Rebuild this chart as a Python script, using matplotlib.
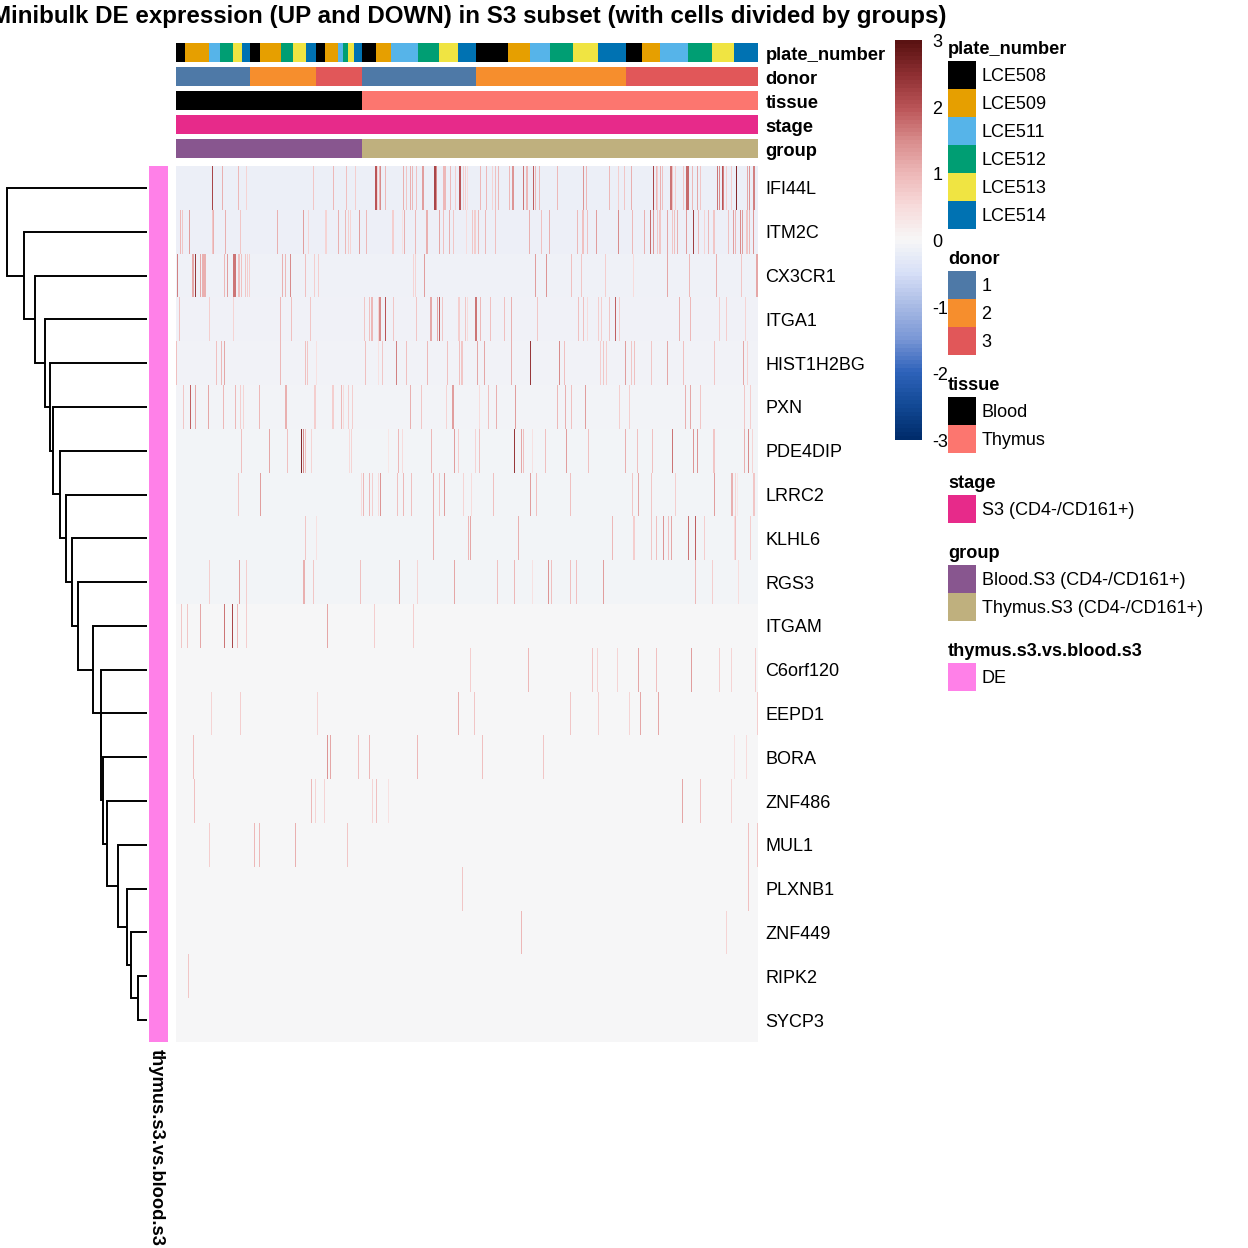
import numpy as np
import matplotlib
matplotlib.use('Agg')
import matplotlib.pyplot as plt
from matplotlib.colors import LinearSegmentedColormap, ListedColormap
from matplotlib.patches import Rectangle

plt.rcParams['font.family'] = ['Liberation Sans', 'DejaVu Sans']

title = "Minibulk DE expression (UP and DOWN) in S3 subset (with cells divided by groups)"
genes = ["IFI44L", "ITM2C", "CX3CR1", "ITGA1", "HIST1H2BG", "PXN", "PDE4DIP", "LRRC2", "KLHL6", "RGS3",
         "ITGAM", "C6orf120", "EEPD1", "BORA", "ZNF486", "MUL1", "PLXNB1", "ZNF449", "RIPK2", "SYCP3"]
n_cells = 582

# background z-score of each gene (cells without expression)
base_values = [-0.17, -0.16, -0.12, -0.11, -0.09, -0.08, -0.07, -0.07, -0.07, -0.07,
               -0.01, -0.01, -0.01, -0.01, -0.01, -0.01, -0.01, -0.01, -0.01, -0.01]

# (cell, z-score) for the expressing cells of each gene
ifi44l = [(36, 2.2), (46, 1.1), (62, 1.0), (70, 0.6), (137, 0.8), (157, 1.0), (170, 0.9), (179, 0.7),
          (199, 2.0), (200, 2.0), (201, 0.6), (203, 1.0), (204, 1.5), (209, 1.0), (227, 1.1), (230, 0.8),
          (234, 1.1), (236, 1.0), (240, 0.9), (246, 1.3), (247, 1.3), (258, 2.2), (259, 2.2), (260, 1.5),
          (267, 1.0), (268, 1.0), (269, 1.0), (274, 1.0), (279, 0.7), (283, 2.0), (284, 2.0), (287, 0.7),
          (289, 0.7), (291, 0.5), (304, 1.0), (310, 1.0), (316, 0.6), (319, 0.9), (322, 1.0), (333, 1.0),
          (336, 1.4), (337, 1.4), (347, 1.7), (350, 1.0), (351, 1.0), (357, 1.9), (359, 1.0), (363, 1.0),
          (381, 1.0), (407, 1.4), (410, 1.0), (433, 1.0), (442, 0.7), (448, 0.8), (455, 1.1), (477, 2.2),
          (480, 1.0), (481, 0.7), (484, 1.1), (486, 0.9), (494, 1.7), (495, 1.7), (496, 0.8), (499, 0.7),
          (507, 0.8), (510, 1.8), (511, 1.8), (512, 1.8), (516, 1.0), (521, 1.2), (524, 0.8), (541, 1.7),
          (543, 1.5), (546, 2.0), (547, 1.6), (550, 0.7), (555, 0.7), (560, 2.6), (571, 1.2), (573, 1.4),
          (577, 1.6), (578, 1.6)]
itm2c = [(4, 1.0), (6, 0.8), (13, 1.3), (36, 0.8), (37, 1.1), (49, 1.1), (64, 0.8), (101, 1.1), (127, 1.3),
         (132, 0.6), (149, 0.6), (150, 0.6), (162, 1.1), (169, 1.0), (172, 0.7), (174, 0.6), (183, 1.3),
         (190, 1.0), (216, 0.7), (217, 0.7), (226, 0.4), (228, 1.1), (239, 1.0), (250, 1.1), (251, 1.1),
         (263, 1.2), (267, 0.9), (273, 1.1), (277, 0.8), (290, 0.5), (296, 0.8), (298, 0.7), (299, 0.7),
         (302, 1.0), (309, 1.0), (319, 0.9), (353, 1.1), (365, 0.9), (373, 1.1), (401, 1.0), (406, 0.9),
         (407, 0.9), (411, 0.9), (420, 1.3), (442, 1.5), (456, 1.0), (468, 1.1), (474, 1.8), (477, 1.4),
         (481, 0.8), (483, 0.8), (484, 0.8), (491, 1.2), (496, 0.8), (498, 0.9), (501, 1.1), (510, 1.3),
         (517, 2.3), (522, 1.0), (528, 0.6), (532, 1.0), (537, 0.8), (538, 0.8), (552, 0.9), (557, 1.3),
         (559, 1.0), (564, 1.5), (566, 1.3), (570, 0.8), (571, 0.8), (573, 1.0), (577, 1.4)]
cx3cr1 = [(1, 1.6), (16, 1.2), (17, 1.2), (19, 2.4), (24, 1.2), (26, 1.1), (27, 1.1), (28, 1.1), (29, 1.1),
          (48, 1.0), (51, 1.3), (57, 1.7), (58, 1.7), (59, 1.7), (62, 0.9), (63, 0.9), (65, 0.9), (69, 0.8),
          (71, 0.7), (73, 0.7), (106, 1.1), (109, 1.0), (114, 1.5), (129, 0.9), (138, 0.7), (142, 0.7),
          (237, 0.6), (239, 0.6), (248, 1.3), (359, 1.3), (370, 1.4), (395, 0.9), (405, 0.8), (429, 0.7),
          (457, 0.5), (491, 1.2), (513, 1.0), (540, 1.1), (565, 0.8), (580, 1.2), (581, 1.2)]
itga1 = [(3, 0.9), (33, 0.7), (57, 0.6), (104, 1.0), (115, 0.9), (134, 0.8), (188, 0.8), (193, 0.9), (195, 1.0),
         (196, 1.0), (202, 0.6), (203, 1.5), (204, 1.5), (209, 2.0), (217, 0.8), (240, 0.8), (254, 1.2),
         (255, 1.2), (261, 1.2), (263, 1.9), (266, 0.8), (282, 0.7), (283, 0.7), (289, 0.8), (291, 0.5),
         (299, 1.7), (300, 1.7), (304, 1.0), (314, 0.9), (328, 0.9), (335, 1.1), (361, 0.8), (402, 0.9),
         (407, 0.9), (411, 0.5), (422, 0.7), (425, 0.7), (433, 0.8), (439, 1.9), (443, 0.7), (503, 1.1),
         (514, 1.0), (543, 0.7), (550, 0.7), (569, 0.6)]
hist1h2bg = [(0, 0.9), (40, 0.9), (45, 1.0), (48, 1.2), (104, 1.0), (129, 0.9), (131, 0.8), (140, 0.4), (189, 0.9),
             (202, 0.4), (206, 0.8), (220, 1.6), (230, 0.9), (251, 1.0), (271, 0.9), (283, 0.9), (285, 0.8),
             (286, 0.8), (301, 1.2), (308, 1.2), (335, 1.1), (354, 2.4), (383, 1.5), (388, 0.9), (424, 0.7),
             (427, 0.8), (430, 0.7), (449, 1.3), (455, 0.8), (458, 0.9), (475, 0.8), (491, 1.2), (507, 0.9),
             (538, 0.8), (567, 1.2), (571, 0.6)]
pxn = [(7, 0.8), (14, 1.9), (19, 1.2), (32, 1.2), (47, 1.0), (59, 1.0), (64, 0.7), (67, 0.6), (83, 1.0), (109, 1.1),
       (110, 1.1), (138, 0.7), (139, 0.7), (156, 0.7), (157, 0.7), (165, 1.0), (167, 0.5), (172, 0.7), (176, 0.7),
       (234, 1.1), (245, 0.8), (270, 0.6), (276, 1.3), (277, 1.3), (303, 0.5), (312, 0.9), (320, 1.1), (339, 1.3),
       (381, 1.0), (389, 1.1), (395, 0.9), (409, 1.3), (443, 0.7), (453, 0.7), (509, 1.1), (514, 1.2), (524, 0.8),
       (568, 0.8), (574, 0.7)]
pde4dip = [(65, 0.9), (93, 1.2), (111, 0.9), (125, 2.6), (127, 1.5), (129, 0.9), (135, 0.6), (173, 0.5), (175, 0.6),
           (212, 0.3), (222, 1.0), (226, 0.5), (255, 1.0), (278, 1.3), (282, 0.7), (299, 0.6), (303, 0.9), (338, 2.4),
           (345, 1.2), (347, 0.9), (356, 0.4), (369, 0.9), (390, 1.3), (412, 0.9), (449, 1.1), (461, 0.9), (476, 0.9),
           (496, 1.7), (517, 1.4), (521, 1.4), (537, 0.8), (538, 0.8), (568, 1.1), (572, 1.5), (576, 0.6)]
lrrc2 = [(62, 0.8), (84, 1.3), (185, 0.5), (187, 1.0), (193, 1.0), (196, 0.7), (202, 0.5), (204, 1.4), (221, 0.9),
         (227, 1.0), (235, 0.9), (257, 1.1), (263, 0.8), (268, 1.3), (287, 0.6), (295, 0.5), (317, 0.9), (354, 1.3),
         (360, 0.9), (394, 0.9), (456, 0.8), (462, 1.2), (475, 0.8), (499, 0.7), (538, 1.3), (555, 1.1), (556, 1.1),
         (559, 0.6), (561, 0.3), (577, 0.8), (578, 0.8)]
klhl6 = [(129, 0.8), (140, 0.4), (257, 1.1), (292, 1.0), (294, 1.2), (342, 1.1), (436, 1.0), (457, 0.7), (458, 0.7),
         (475, 0.8), (480, 0.9), (487, 1.4), (492, 0.9), (495, 1.2), (512, 1.7), (519, 1.9), (528, 0.7), (558, 0.5),
         (559, 0.9), (574, 0.7)]
rgs3 = [(33, 0.7), (63, 1.3), (70, 0.7), (127, 1.1), (128, 1.1), (137, 0.8), (184, 0.9), (223, 1.2), (241, 0.6),
        (278, 1.2), (321, 0.9), (338, 1.0), (356, 0.4), (372, 1.4), (375, 0.9), (394, 0.9), (400, 0.9), (427, 1.3),
        (519, 1.0), (536, 0.7), (562, 0.5)]
itgam = [(5, 0.8), (11, 0.8), (24, 1.2), (48, 1.7), (56, 2.2), (61, 1.0), (70, 0.7), (151, 1.2), (198, 0.7), (237, 0.7)]
c6orf120 = [(294, 0.7), (352, 1.0), (416, 0.8), (421, 0.6), (441, 0.6), (462, 1.2), (480, 0.9), (515, 1.3), (543, 0.7),
            (555, 0.6), (579, 0.7)]
eepd1 = [(35, 0.6), (64, 0.7), (141, 0.6), (282, 1.1), (298, 0.8), (394, 0.8), (422, 0.7), (453, 0.6), (464, 1.2),
         (482, 1.2), (581, 0.7)]
bora = [(17, 0.9), (151, 1.4), (154, 1.2), (182, 0.9), (193, 1.0), (241, 1.0), (306, 0.9), (367, 0.8), (558, 0.4),
        (570, 0.5)]
znf486 = [(18, 0.9), (135, 1.0), (139, 0.6), (148, 0.6), (196, 0.6), (200, 0.9), (212, 0.4), (506, 1.2), (524, 0.9),
          (555, 0.6)]
mul1 = [(33, 0.7), (78, 1.0), (83, 1.0), (119, 1.1), (171, 0.8), (572, 0.9), (581, 0.8)]
plxnb1 = [(286, 0.8), (572, 0.9)]
znf449 = [(345, 1.0), (550, 0.6)]
ripk2 = [(12, 0.8)]
sycp3 = []
gene_spikes = [ifi44l, itm2c, cx3cr1, itga1, hist1h2bg, pxn, pde4dip, lrrc2, klhl6, rgs3,
               itgam, c6orf120, eepd1, bora, znf486, mul1, plxnb1, znf449, ripk2, sycp3]

# top annotations, as runs along the cells
plate_names = ["LCE508", "LCE509", "LCE511", "LCE512", "LCE513", "LCE514"]
plate_colors = ["#000000", "#E69F00", "#56B4E9", "#009E73", "#F0E442", "#0072B2"]
plate_runs = [0, 1, 2, 3, 4, 5, 0, 1, 3, 4, 5, 0, 1, 2, 3, 4, 5, 0, 1, 2, 3, 4, 5, 0, 1, 2, 3, 4, 5, 0, 1, 2, 3, 4, 5]
plate_lengths = [9, 24, 11, 13, 9, 8, 10, 21, 12, 13, 10, 9, 13, 5, 5, 6, 8, 14, 15, 27, 21, 19, 18,
                 32, 22, 20, 23, 25, 28, 16, 18, 28, 24, 22, 24]
donor_names = ["1", "2", "3"]
donor_colors = ["#4E79A7", "#F68E2D", "#E15759"]
donor_runs = [0, 1, 2, 0, 1, 2]
donor_lengths = [74, 66, 46, 114, 150, 132]
tissue_names = ["Blood", "Thymus"]
tissue_colors = ["#000000", "#FC766F"]
tissue_runs = [0, 1]
tissue_lengths = [186, 396]
stage_names = ["S3 (CD4-/CD161+)"]
stage_colors = ["#E72A8A"]
stage_runs = [0]
stage_lengths = [582]
group_names = ["Blood.S3 (CD4-/CD161+)", "Thymus.S3 (CD4-/CD161+)"]
group_colors = ["#88568F", "#BFB07E"]
group_runs = [0, 1]
group_lengths = [186, 396]
de_names = ["DE"]
de_colors = ["#FF80E8"]

# merge heights of the row dendrogram, root first (one ladder, last merge joins the last two rows)
merge_heights = [140.0, 123.0, 111.7, 102.3, 97.3, 94.0, 87.0, 80.7, 75.3, 68.7,
                 53.7, 46.0, 45.3, 44.0, 39.7, 29.0, 19.7, 15.3, 8.3]

cbar_stops = [-3, -2.5, -2, -1.5, -1, -0.5, 0, 0.5, 1, 1.5, 2, 2.5, 3]
cbar_colors = ["#002C6B", "#134A96", "#2F63BB", "#7A97D6", "#A9BBE5", "#D8E0F8", "#F7F7F7",
               "#F8DCDC", "#EEB9B9", "#D98D8D", "#BB5558", "#8F3033", "#5A1212"]
cbar_ticks = [3, 2, 1, 0, -1, -2, -3]

W = 1248


def px_axes(fig, left, top, right, bottom):
    # small inset so the image does not round out to one pixel more
    ax = fig.add_axes([(left + 0.02) / W, 1 - (bottom - 0.02) / W, (right - left - 0.4) / W, (bottom - top - 0.04) / W])
    ax.axis('off')
    return ax


cmap = LinearSegmentedColormap.from_list(
    'zscore', [((s + 3) / 6, c) for s, c in zip(cbar_stops, cbar_colors)], N=512)

fig = plt.figure(figsize=(12.48, 12.48), dpi=100)

# page layer for text and legends, in pixels
page = fig.add_axes([0, 0, 1, 1], zorder=5)
page.set_xlim(0, W)
page.set_ylim(W, 0)
page.axis('off')

# heatmap body
matrix = np.zeros((len(genes), n_cells))
for i, spikes in enumerate(gene_spikes):
    matrix[i, :] = base_values[i]
    for cell, value in spikes:
        matrix[i, cell] = value
ax = px_axes(fig, 176, 166, 758, 1042)
ax.imshow(matrix, aspect='auto', cmap=cmap, vmin=-3, vmax=3, interpolation='nearest')

row_h = (1042 - 166) / len(genes)
for i, gene in enumerate(genes):
    page.text(765.5, 168 + row_h * (i + 0.5), gene, fontsize=13, ha='left', va='center')

# top annotation bars
bars = [("plate_number", plate_runs, plate_lengths, plate_colors, 43),
        ("donor", donor_runs, donor_lengths, donor_colors, 67),
        ("tissue", tissue_runs, tissue_lengths, tissue_colors, 91),
        ("stage", stage_runs, stage_lengths, stage_colors, 115),
        ("group", group_runs, group_lengths, group_colors, 139)]
for name, runs, lengths, colors, top in bars:
    bar_ax = px_axes(fig, 176, top, 758, top + 19)
    row = np.repeat(runs, lengths)[:n_cells].reshape(1, -1)
    bar_ax.imshow(row, aspect='auto', cmap=ListedColormap(colors), vmin=-0.5, vmax=len(colors) - 0.5,
                  interpolation='nearest')
    page.text(765.5, top + 12, name, fontsize=13.2, fontweight='bold', ha='left', va='center')

# left annotation
de_ax = px_axes(fig, 149, 166, 168, 1042)
de_ax.imshow(np.zeros((len(genes), 1)), aspect='auto', cmap=ListedColormap(de_colors), interpolation='nearest')
page.text(156, 1049, "thymus.s3.vs.blood.s3", fontsize=13.2, fontweight='bold', rotation=270,
          ha='center', va='top')

# row dendrogram, built from the bottom merge upwards
dend = px_axes(fig, 7, 166, 147, 1042)
dend.set_xlim(140, 0)
dend.set_ylim(len(genes), 0)
node_y = 0.0
node_h = 0.0
for k in range(len(merge_heights) - 1, -1, -1):
    leaf_y = k + 0.5
    h = merge_heights[k]
    if k == len(merge_heights) - 1:
        lower_y = k + 1.5
    else:
        lower_y = node_y
    dend.plot([0, h, h, node_h], [leaf_y, leaf_y, lower_y, lower_y], color='black', lw=1.4,
              solid_joinstyle='miter', solid_capstyle='butt', clip_on=False)
    node_y = (leaf_y + lower_y) / 2
    node_h = h

# colour bar
cbar_ax = px_axes(fig, 895, 40, 922, 440)
levels = np.linspace(3, -3, 100).reshape(-1, 1)
cbar_ax.imshow(levels, aspect='auto', cmap=cmap, vmin=-3, vmax=3, interpolation='nearest')
for t in cbar_ticks:
    page.text(932.5, 242.5 - t * 66.7, str(t), fontsize=13, ha='left', va='center', zorder=1)

# legends
legends = [("plate_number", plate_names, plate_colors, 48),
           ("donor", donor_names, donor_colors, 258),
           ("tissue", tissue_names, tissue_colors, 384),
           ("stage", stage_names, stage_colors, 482),
           ("group", group_names, group_colors, 552),
           ("thymus.s3.vs.blood.s3", de_names, de_colors, 650)]
for name, labels, colors, y in legends:
    page.text(948, y + 2, name, fontsize=13.1, fontweight='bold', ha='left', va='center', zorder=3)
    for j, (label, color) in enumerate(zip(labels, colors)):
        page.add_patch(Rectangle((948, y + 13 + 28 * j), 28, 28, facecolor=color, edgecolor='none', zorder=2))
        page.text(981.5, y + 28.5 + 28 * j, label, fontsize=13, ha='left', va='center', zorder=3)

page.text(469, 17, title, fontsize=17.4, fontweight='bold', ha='center', va='center')

plt.savefig('out.png', dpi=100)
plt.close(fig)
